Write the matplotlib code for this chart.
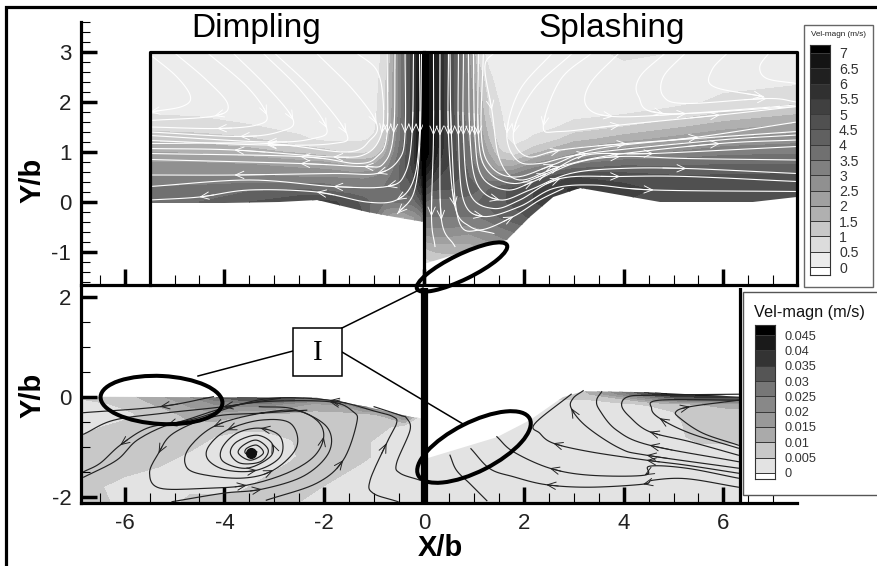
import numpy as np
import matplotlib
matplotlib.use("Agg")
import matplotlib.pyplot as plt
from matplotlib.colors import ListedColormap
from matplotlib.patches import Ellipse, Polygon, Rectangle

plt.rcParams["font.family"] = ["Liberation Sans", "DejaVu Sans"]
plt.rcParams["axes.unicode_minus"] = False

W, H = 878, 566

# ---- top panel velocity field (m/s)
top_levels = [0, .5, 1, 1.5, 2, 2.5, 3, 3.5, 4, 4.5, 5, 5.5, 6, 6.5, 7, 20]
top_colors = ["#ececec", "#dcdcdc", "#c8c8c8", "#b0b0b0", "#a0a0a0", "#909090", "#808080",
              "#707070", "#606060", "#505050", "#404040", "#303030", "#202020", "#141414", "#000000"]
top_labels = ["0", "0.5", "1", "1.5", "2", "2.5", "3", "3.5", "4", "4.5", "5", "5.5", "6", "6.5", "7"]

tl_x = [-5.5, -4.5, -3.5, -2.5, -2, -1.5, -1.2, -1, -.8, -.6, -.4, -.2, -.05, 0]
tl_y = [-.5, -.3, 0, .25, .5, .75, 1, 1.25, 1.5, 1.75, 2, 2.5, 3]
tl_v = [
    [4, 4, 4.5, 5, 5.2, 5, 4.5, 3.5, 2.5, 2, 2, 2.5, 3, 3.5],
    [4, 4, 4.5, 5, 5.2, 5, 4.5, 3.5, 2.5, 2, 2, 2.5, 3, 3.5],
    [4, 4, 4.5, 5, 5.2, 4.8, 4.3, 3.8, 3.5, 3.5, 3.6, 3.8, 4.5, 6],
    [3.6, 3.7, 3.9, 4, 3.9, 3.6, 3.5, 3.5, 3.6, 3.8, 4.1, 4.5, 5.5, 7],
    [3.1, 3.1, 3.1, 3, 3, 2.9, 2.9, 3, 3.2, 3.7, 4.3, 5, 6.2, 7.5],
    [2.6, 2.6, 2.5, 2.3, 2.2, 1.9, 1.9, 2, 2.5, 3.4, 4.4, 5.3, 6.8, 7.5],
    [2, 1.9, 1.7, 1.4, 1.2, .9, .9, 1.1, 1.7, 3, 4.2, 5.5, 7, 7.5],
    [1.4, 1.3, 1.1, .6, .4, .4, .45, .6, 1.2, 2.7, 4, 5.5, 7.2, 7.5],
    [.8, .7, .55, .35, .3, .3, .35, .4, 1, 2.5, 4, 5.5, 7.2, 7.5],
    [.5, .45, .3, .3, .3, .3, .3, .35, .9, 2.3, 4, 5.5, 7.2, 7.5],
    [.3, .3, .3, .3, .3, .3, .3, .35, .8, 2.3, 4, 5.5, 7.2, 7.5],
    [.3, .3, .3, .3, .3, .3, .3, .3, .7, 2.2, 4, 5.5, 7.2, 7.5],
    [.3, .3, .3, .3, .3, .3, .3, .3, .6, 2, 4, 5.5, 7.2, 7.5],
]
tl_surface = [(-5.5, -.02), (-4, -.02), (-2.9, 0), (-2.14, .04), (-1.14, -.2), (-.48, -.32), (0, -.4)]

tr_x = [0, .15, .3, .5, .7, .9, 1.1, 1.3, 1.5, 1.8, 2.2, 2.6, 3, 4, 5, 6, 7.5]
tr_y = [-1.5, -1.25, -.9, -.6, -.3, 0, .25, .5, .75, 1, 1.25, 1.5, 1.75, 2, 2.5, 3]
tr_v = [
    [.7, .8, .9, 1, 1, 1, 1.2, 1.4, 1.6, 1.8, 2, 2, 2, 2, 2, 2, 2],
    [.7, .8, .9, 1, 1, 1, 1.2, 1.4, 1.6, 1.8, 2, 2, 2, 2, 2, 2, 2],
    [1.5, 1.7, 1.8, 1.8, 1.8, 1.8, 2, 2.2, 2.5, 2.8, 3, 3, 3, 3, 3, 3, 3],
    [2.8, 2.8, 2.8, 2.8, 2.7, 2.6, 2.8, 3, 3.2, 3.5, 3.8, 4, 4, 4, 4, 4, 4],
    [3.5, 3.5, 3.5, 3.5, 3.5, 3.5, 3.5, 3.7, 4, 4.3, 4.6, 4.8, 4.8, 4.6, 4.4, 4.4, 4.4],
    [4, 3.8, 3.8, 3.8, 3.8, 3.8, 4, 4.2, 4.4, 4.6, 5, 5.3, 5.3, 5, 4.6, 4.6, 4.6],
    [5, 4.6, 4.5, 4.5, 4.3, 4.2, 4, 4, 4.3, 4.7, 5, 5.3, 5.6, 5.2, 4.8, 4.8, 4.8],
    [6, 5.5, 5, 4.8, 4.5, 4, 3.6, 3.2, 3, 3.3, 4, 4.7, 5, 4.8, 4.6, 4.6, 4.7],
    [7, 6.2, 5.5, 5, 4.4, 3.8, 3.2, 2.5, 1.8, 1.8, 2.6, 3, 3.5, 3.9, 3.9, 4, 4],
    [7.5, 6.8, 5.8, 5, 4.3, 3.6, 2.8, 1.9, 1.1, .7, 1.3, 1.8, 2.3, 2.8, 3, 3.3, 3.4],
    [7.5, 6.8, 6, 5, 4.2, 3.4, 2.5, 1.5, .8, .3, .6, .9, 1.3, 1.8, 2.2, 2.6, 2.8],
    [7.5, 6.8, 6, 5, 4.2, 3.2, 2.2, 1.2, .6, .3, .3, .45, .7, 1, 1.4, 1.8, 2.2],
    [7.5, 6.8, 6, 5, 4, 3, 2, 1, .55, .3, .3, .3, .35, .5, .7, 1.1, 1.5],
    [7.5, 6.8, 6, 5, 4, 3, 1.8, .9, .5, .3, .3, .3, .3, .3, .35, .6, .9],
    [7.5, 6.8, 6, 5, 4, 2.8, 1.3, .6, .3, .3, .3, .3, .3, .3, .3, .3, .3],
    [7.5, 6.8, 6, 5, 4, 2.5, .7, .3, .3, .3, .3, .3, .3, .6, .5, .3, .3],
]
tr_surface = [(0, -1.22), (.06, -1.22), (1.12, -.9), (1.66, -.76), (2.12, -.3), (2.59, .1), (3.13, .28),
              (3.93, .14), (4.73, 0), (6.59, 0), (7.47, .1)]

# ---- bottom panel velocity field (mm/s)
bot_levels = [0, 5, 10, 15, 20, 25, 30, 35, 40, 45, 99]
bot_colors = ["#e3e3e3", "#c8c8c8", "#aaaaaa", "#999999", "#888888", "#777777",
              "#555555", "#333333", "#1a1a1a", "#000000"]
bot_labels = ["0", "0.005", "0.01", "0.015", "0.02", "0.025", "0.03", "0.035", "0.04", "0.045"]

bl_x = [-6.85, -6, -5.3, -4.7, -4.2, -3.7, -3.2, -2.7, -2.2, -1.7, -1.2, -.8, -.4, 0]
bl_y = [-2.13, -1.8, -1.5, -1.2, -.9, -.6, -.35, -.15, 0, .1]
bl_v = [
    [7, 4, 3, 6, 7, 7, 7, 6, 3, 3, 3, 3, 3, 3],
    [7, 3, 3, 4, 3, 4, 6.5, 7, 6, 3, 3, 3, 3, 3],
    [6, 6, 4, 3, 3, 3, 4, 6.5, 7.5, 6, 3, 3, 3, 3],
    [6, 8, 7, 4, 3, 3, 3, 4, 7.5, 7, 6, 3, 3, 3],
    [6, 7, 7, 7, 4, 3, 3, 4.5, 7.5, 7, 6, 3, 3, 3],
    [4, 6, 7.5, 8, 7, 6, 6, 7, 7.5, 7, 7, 6, 3, 3],
    [3, 4, 7, 12, 14, 11, 9, 9, 8, 8, 9, 11, 25, 4],
    [3, 6, 11, 16, 20, 23, 24, 18, 14, 16, 30, 30, 30, 30],
    [6, 8, 14, 20, 30, 36, 38, 38, 30, 30, 30, 30, 30, 30],
    [6, 8, 14, 20, 30, 36, 38, 38, 30, 30, 30, 30, 30, 30],
]
bl_surface = [(-6.85, 0), (-2.15, -.02), (-1.15, -.2), (-.28, -.4), (0, -.44)]

br_x = [0, 2, 2.6, 3.2, 4, 4.6, 5, 5.5, 6, 6.4]
br_y = [-2.13, -1, -.8, -.5, -.3, -.15, -.05, .05, .15]
br_v = [
    [3, 3, 3, 3, 3, 3, 3, 3, 3, 3],
    [3, 3, 3, 3, 3, 3, 3, 4, 4, 4],
    [3, 3, 3, 3, 3, 3, 3, 7, 7.5, 7.5],
    [3, 3, 3, 3, 3, 3, 4, 7, 7.5, 7.5],
    [3, 3, 3, 3, 3, 3, 5, 7, 8, 8],
    [3, 3, 3, 3, 4, 6, 8, 10, 12, 13],
    [3, 3, 5, 5, 10, 20, 26, 30, 30, 32],
    [3, 3, 6, 8, 22, 35, 42, 42, 42, 42],
    [3, 3, 6, 10, 30, 45, 45, 45, 45, 45],
]
br_surface = [(0, -1.25), (1.46, -.81), (2.12, -.47), (2.78, -.01), (3.19, .11), (4.47, .09), (6.35, 0)]

# ---- streamlines: (points along the flow, control points that carry an arrow head)
tl_lines = [
    ([(-5.49, 2.95), (-4.96, 2.51), (-4.68, 2.11), (-4.85, 1.91), (-5.49, 1.8)], [4]),
    ([(-5.02, 3), (-4.36, 2.44), (-3.93, 1.95), (-4.2, 1.72), (-5.49, 1.63)], [3]),
    ([(-4.36, 3), (-3.55, 2.31), (-3.15, 1.74), (-3.35, 1.54), (-4.15, 1.47), (-5.49, 1.5)], [2, 4]),
    ([(-3.85, 3), (-3.15, 2.31), (-2.62, 1.64), (-2.88, 1.41), (-3.69, 1.31), (-5.49, 1.4)], [2, 4]),
    ([(-3.25, 3), (-2.48, 2.24), (-1.95, 1.48), (-2.22, 1.27), (-3.15, 1.2), (-5.49, 1.33)], [2, 4]),
    ([(-3.02, 3), (-2.22, 2.24), (-1.55, 1.37), (-1.82, 1.17), (-3.15, 1.14), (-5.49, 1.23)], [2, 4]),
    ([(-2.18, 3), (-1.42, 2.24), (-.95, 1.57), (-1.08, 1.24), (-1.55, 1), (-3.15, 1.17), (-5.49, 1.17)], [2, 5]),
    ([(-1.38, 3), (-.95, 2.64), (-.82, 2.04), (-.85, 1.37), (-1.15, .97), (-1.82, .9), (-3.8, 1.04), (-5.49, 1.07)], [3, 5, 6]),
    ([(-.74, 3), (-.74, 1.37), (-.94, .91), (-1.35, .77), (-2.48, .91), (-5.49, .97)], [1, 4]),
    ([(-.58, 3), (-.61, 1.37), (-.81, .77), (-1.21, .71), (-2.48, .77), (-5.49, .85)], [1, 3, 4]),
    ([(-.38, 3), (-.38, 1.37), (-.51, .84), (-.94, .57), (-1.82, .57), (-3.8, .54), (-5.49, .54)], [1, 3, 5]),
    ([(-.21, 3), (-.24, 1.37), (-.38, .57), (-.74, .31), (-1.82, .31), (-3.5, .44), (-5.49, .31)], [1, 3, 4]),
    ([(-.09, 3), (-.09, 1.37), (-.21, .44), (-.55, .04), (-1.15, 0), (-2.15, .2), (-3.5, .24), (-4.5, .1), (-5.49, .04)], [1, 3, 5, 7]),
    ([(-.05, 3), (-.08, 1.25), (-.2, .2), (-.53, -.23)], [3]),
]
tr_lines = [
    ([(.19, 3), (.19, 1.33), (.15, -.29), (.22, -.89)], [1, 2]),
    ([(.32, 3), (.32, 1.33), (.35, -.36), (.62, -.89)], [1, 2]),
    ([(.49, 3), (.49, 1.33), (.62, -.09), (.92, -.49), (1.4, -.63)], [1, 2]),
    ([(.52, 3), (.55, 1.33), (.69, -.36), (1.12, -.56), (1.79, -.29), (2.32, .04), (2.79, .27)], [1, 4]),
    ([(.69, 3), (.69, 1.33), (.79, .04), (1.19, -.29), (1.92, -.09), (2.59, .27), (3.39, .34), (4.6, .24), (7.47, .21)], [1, 3, 7]),
    ([(.79, 3), (.79, 1.33), (.92, .17), (1.39, -.13), (1.92, .04), (2.73, .47), (3.93, .51), (5.26, .51), (7.47, .41)], [1, 5, 6]),
    ([(.89, 3), (.92, 1.33), (1.06, .37), (1.52, .04), (2.12, .24), (2.93, .57), (3.93, .67), (5.26, .67), (7.47, .57)], [1, 3, 7]),
    ([(.99, 3), (1.02, 1.33), (1.16, .51), (1.66, .24), (2.19, .41), (3, .77), (3.93, .91), (5.26, .87), (7.47, .84)], [1, 4, 6]),
    ([(1.09, 3), (1.09, 1.33), (1.26, .64), (1.79, .37), (2.46, .57), (3.26, .94), (4.6, .97), (7.47, 1.11)], [1, 4, 6]),
    ([(1.19, 3), (1.15, 1.33), (1.35, .7), (1.85, .5), (2.6, .75), (3.5, 1.07), (5.5, 1.3), (7.47, 1.6)], [4, 6]),
    ([(1.42, 3), (1.22, 2.71), (1.36, 1.84), (1.52, .84), (1.92, .44), (2.73, .71), (3.79, .94), (5.93, 1.17), (7.47, 1.24)], [2, 5, 7]),
    ([(2.59, 3), (1.92, 2.24), (1.66, 1.37), (1.86, .84), (2.32, .77), (3.26, .97), (5.93, 1.24), (7.47, 1.34)], [2, 5]),
    ([(3, 3), (2.19, 2.24), (1.79, 1.37), (2.06, .91), (2.73, 1.04), (4.06, 1.17), (7.47, 1.41)], [2, 4, 5]),
    ([(3.39, 3), (2.73, 2.44), (2.39, 1.51), (2.73, 1.41), (3.93, 1.54), (5.93, 1.74), (7.47, 1.91)], [2, 4, 5]),
    ([(3.93, 3), (3.33, 2.37), (3.26, 1.91), (3.79, 1.71), (5.26, 1.77), (7.47, 1.94)], [3, 4]),
    ([(4.86, 3), (4.33, 2.51), (4.3, 2.11), (4.8, 1.77), (7.47, 1.91)], [3]),
    ([(5.26, 3), (4.8, 2.51), (4.8, 2.11), (5.26, 1.97), (6.87, 2.07), (7.47, 2)], [4]),
    ([(6.1, 3), (5.77, 2.64), (5.8, 2.31), (6.8, 2.11)], [3]),
    ([(6.93, 3), (6.73, 2.71), (6.87, 2.47), (7.47, 2.37)], []),
]
bl_lines = [
    ([(-4.22, 0), (-5.29, -.2), (-6.83, -.32)], [1]),
    ([(-2.88, -.03), (-4.02, -.2), (-5.22, -.33), (-6.22, -.47), (-6.82, -.75)], [1]),
    ([(-3.16, -2.07), (-2.15, -1.73), (-1.62, -1.27), (-1.35, -.53), (-1.42, -.3), (-1.89, -.1), (-3.22, -.1),
      (-4.02, -.23), (-4.89, -.5), (-5.55, -.63), (-6.09, -.97), (-6.49, -1.33), (-6.82, -1.5)], [2, 5, 10]),
    ([(-.52, -2.1), (-1.02, -1.93), (-1.08, -1.67), (-.75, -.93), (-.55, -.53), (-.62, -.4), (-.95, -.3),
      (-1.89, -.07), (-3.22, -.05), (-4.55, -.43), (-5.15, -.57), (-5.75, -.87), (-6.16, -1.27), (-6.82, -1.61)], [3, 7, 10]),
    ([(-.08, -1.67), (-.48, -1.53), (-.55, -1.33), (-.28, -.67), (-.35, -.43), (-.48, -.37), (-1, -.2)], []),
    ([(-5.05, -2.1), (-4.02, -1.93), (-3.25, -1.85), (-2.4, -1.58), (-1.9, -1.1), (-1.95, -.6), (-2.6, -.25), (-3.3, -.2)], [2]),
    ([(-2.35, -.27), (-3.28, -.33), (-4.22, -.4), (-5.02, -.73), (-5.32, -1.13), (-5.5, -1.53), (-5.29, -1.83),
      (-4.35, -1.83), (-3.55, -1.77), (-2.75, -1.53), (-2.21, -1.2), (-2.01, -.8), (-2.15, -.47), (-2.62, -.27),
      (-3.48, -.37), (-4.22, -.6), (-4.69, -1), (-4.79, -1.33), (-4.55, -1.53), (-3.68, -1.63), (-3.02, -1.47),
      (-2.55, -1), (-2.68, -.53), (-3.28, -.47), (-3.95, -.67), (-4.32, -1), (-4.32, -1.27), (-3.95, -1.47),
      (-3.35, -1.47), (-2.88, -1.2), (-2.88, -.8), (-3.28, -.63), (-3.75, -.73), (-4.05, -1.03), (-4.02, -1.3),
      (-3.55, -1.43), (-3.08, -1.2), (-3.05, -.93), (-3.35, -.77), (-3.75, -.9), (-3.88, -1.13), (-3.68, -1.33),
      (-3.28, -1.3), (-3.12, -1.07), (-3.35, -.87), (-3.62, -.97), (-3.72, -1.13), (-3.48, -1.27), (-3.22, -1.13),
      (-3.35, -.97), (-3.55, -1.03), (-3.58, -1.13), (-3.42, -1.18), (-3.35, -1.1), (-3.45, -1.1)],
     [4, 8, 11, 15, 20, 24, 28, 31, 37]),
]
br_lines = [
    ([(1.26, -2.08), (.92, -1.74), (.65, -1.47), (.52, -1.17)], []),
    ([(6.3, -1.81), (5.26, -1.64), (4.59, -1.67), (4.39, -1.75), (3.32, -1.81), (2.45, -1.76), (1.79, -1.6), (1.32, -1.44), (.94, -1.04)], [3, 5]),
    ([(6.3, -1.63), (5.26, -1.43), (4.52, -1.39), (4.42, -1.57), (3.32, -1.57), (2.52, -1.43), (1.79, -1.1), (1.46, -.8)], [3, 5]),
    ([(6.3, -1.53), (5.26, -1.37), (4.46, -1.27), (3.32, -1.1), (2.59, -.93), (2.32, -.73), (2.22, -.54), (2.95, .05)], [2, 4]),
    ([(6.3, -1.43), (4.46, -1.17), (3.92, -1.03), (3.26, -.6), (2.95, -.23), (2.99, -.03), (3.19, .12)], [1, 4]),
    ([(6.3, -1.3), (4.52, -.97), (3.86, -.67), (3.52, -.27), (3.46, -.07), (3.56, .1)], [1]),
    ([(6.3, -1.17), (5.33, -.9), (4.52, -.7), (4.12, -.4), (3.96, -.17), (4.09, 0), (4.59, .03), (6.3, .05)], [2]),
    ([(6.3, -1.03), (5.33, -.73), (4.72, -.43), (4.56, -.23), (4.72, -.07), (6.3, -.07)], [2]),
    ([(6.3, -.97), (5.59, -.73), (5.13, -.43), (5.05, -.3), (5.33, -.2), (6.3, -.07)], [4]),
]
vortex_core = (-3.47, -1.12)

# ---- annotations, in figure pixels
ellipses = [(462, 267, 100, 25, -26), (161.5, 400, 122, 48, 3), (474, 447, 125, 49, -27)]
callout_lines = [((342, 328), (423, 288)), ((293, 351), (198, 376)), ((342, 352), (463, 424))]


def px_axes(left, top, right, bottom, **kw):
    return fig.add_axes([left / W, 1 - bottom / H, (right - left) / W, (bottom - top) / H], **kw)


def smooth(pts, n=10):
    p = np.array(pts, dtype=float)
    p = np.vstack([2 * p[0] - p[1], p, 2 * p[-1] - p[-2]])
    out = []
    for i in range(1, len(p) - 2):
        for t in np.linspace(0, 1, n, endpoint=False):
            out.append(.5 * (2 * p[i] + (p[i + 1] - p[i - 1]) * t
                             + (2 * p[i - 1] - 5 * p[i] + 4 * p[i + 1] - p[i + 2]) * t ** 2
                             + (3 * p[i] - p[i - 1] - 3 * p[i + 1] + p[i + 2]) * t ** 3))
    out.append(p[-2])
    return np.array(out)


def draw_lines(ax, lines, color, lw):
    for pts, heads in lines:
        s = smooth(pts)
        ax.plot(s[:, 0], s[:, 1], color=color, lw=lw, zorder=3)
        for h in heads:
            k = max(h * 10, 3)
            ax.annotate("", xy=s[k], xytext=s[k - 3], zorder=3,
                        arrowprops=dict(arrowstyle="->,head_length=0.55,head_width=0.24", color=color,
                                        lw=lw * .8, shrinkA=0, shrinkB=0, mutation_scale=11))


def draw_field(ax, x, y, v, levels, colors, surface, close_y):
    cs = ax.contourf(x, y, v, levels=levels, colors=colors, zorder=1)
    clip = Polygon(list(surface) + [(surface[-1][0], close_y), (surface[0][0], close_y)],
                   closed=True, transform=ax.transData)
    cs.set_clip_path(clip)


def style_axes(ax, ymajor, yminor, xlim, ylim):
    ax.set_xlim(xlim)
    ax.set_ylim(ylim)
    ax.set_xticks(np.arange(-6, 7, 2))
    ax.set_xticks(np.arange(-6.5, 7.5, .5), minor=True)
    ax.set_yticks(ymajor)
    ax.set_yticks(yminor, minor=True)
    ax.tick_params(which="major", direction="in", length=11.5, width=2.5, labelsize=16, pad=7,
                   labelcolor="#222222")
    ax.tick_params(which="minor", direction="in", length=7, width=.8)
    ax.tick_params(axis="y", which="minor", length=6.5)
    for s in ["top", "right"]:
        ax.spines[s].set_visible(False)
    for s in ["left", "bottom"]:
        ax.spines[s].set_linewidth(2.3)


def draw_key(left, top, right, bottom, edges, colors, ticks, labels, size):
    cax = px_axes(left, top, right, bottom, zorder=7)
    cmap = ListedColormap(["#ffffff"] + colors)
    cax.pcolormesh([0, 1], edges, np.arange(len(edges) - 1)[:, None], cmap=cmap,
                   edgecolors="#3a3a3a", linewidth=.7)
    cax.set_xticks([])
    cax.yaxis.tick_right()
    cax.set_yticks(ticks)
    cax.set_yticklabels(labels, fontsize=size, color="#333333")
    cax.tick_params(axis="y", length=0, pad=6.5)
    for sp in cax.spines.values():
        sp.set_color("#333333")
        sp.set_linewidth(.8)


fig = plt.figure(figsize=(W / 100, H / 100), dpi=100, facecolor="white")

# top panel
ax_top = px_axes(81, 22, 797, 285)
style_axes(ax_top, [-1, 0, 1, 2, 3], np.arange(-1.6, 3.7, .2), (-6.874, 7.475), (-1.66, 3.6))
ax_top.tick_params(axis="x", which="both", labelbottom=False)
draw_field(ax_top, tl_x, tl_y, tl_v, top_levels, top_colors, tl_surface, 3)
draw_field(ax_top, tr_x, tr_y, tr_v, top_levels, top_colors, tr_surface, 3)
draw_lines(ax_top, tl_lines, "white", .8)
draw_lines(ax_top, tr_lines, "white", .8)
ax_top.plot([-5.5, -5.5, 7.47, 7.47], [-1.66, 3, 3, -1.66], color="k", lw=2.3, zorder=4, clip_on=False)
ax_top.plot([0, 0], [-1.66, 3], color="k", lw=2.3, zorder=4)

# bottom panel
ax_bot = px_axes(81, 288, 797, 503)
style_axes(ax_bot, [-2, 0, 2], np.arange(-2, 2.1, .5), (-6.874, 7.475), (-2.126, 2.174))
draw_field(ax_bot, bl_x, bl_y, bl_v, bot_levels, bot_colors, bl_surface, -2.126)
draw_field(ax_bot, br_x, br_y, br_v, bot_levels, bot_colors, br_surface, -2.126)
draw_lines(ax_bot, bl_lines, "#222222", .85)
draw_lines(ax_bot, br_lines, "#222222", .85)
ax_bot.plot(*vortex_core, "o", color="#111111", ms=7, zorder=3)
ax_bot.plot([0, 0], [-2.126, 2.174], color="k", lw=5.2, zorder=4)
ax_bot.plot([6.33, 6.33], [-2.126, 2.174], color="k", lw=2.3, zorder=4)

# overlay: frame, titles, callouts, legend boxes
ov = px_axes(0, 0, W, H, zorder=5)
ov.set_xlim(0, W)
ov.set_ylim(H, 0)
ov.axis("off")
ov.plot([6.5, 6.5, W], [H, 6.5, 6.5], color="k", lw=2.3, solid_joinstyle="miter")
ov.text(256, 28, "Dimpling", fontsize=24, ha="center", va="center")
ov.text(612, 29, "Splashing", fontsize=24, ha="center", va="center")
ov.text(33, 180, "Y/b", fontsize=21, fontweight="bold", rotation=90, ha="center", va="center")
ov.text(33, 395, "Y/b", fontsize=21, fontweight="bold", rotation=90, ha="center", va="center")
ov.text(440, 548, "X/b", fontsize=21, fontweight="bold", ha="center", va="center")

for a, b in callout_lines:
    ov.plot([a[0], b[0]], [a[1], b[1]], color="k", lw=1.1)
ov.add_patch(Rectangle((293, 328), 49, 48, fc="white", ec="k", lw=1.1, zorder=4))
ov.text(317.5, 353, "I", fontsize=21, family="Liberation Serif", ha="center", va="center", zorder=5)
for cx, cy, w, h, ang in ellipses:
    ov.add_patch(Ellipse((cx, cy), w, h, angle=ang, fc="none", ec="k", lw=2.9, zorder=3))

ov.add_patch(Rectangle((804, 25), 69, 262, fc="white", ec="#666666", lw=1, zorder=6))
ov.add_patch(Rectangle((743, 292), 140, 203, fc="white", ec="#555555", lw=1, zorder=6))
ov.text(838.5, 35, "Vel-magn (m/s)", fontsize=5.9, color="#222222", ha="center", va="center", zorder=7)
ov.text(809, 312, "Vel-magn (m/s)", fontsize=11.7, color="#111111", ha="center", va="center", zorder=7)

draw_key(810, 45, 830, 275, [-.26] + top_levels[:-1] + [7.26], top_colors,
         top_levels[:-1], top_labels, 10.2)
draw_key(755, 325, 775, 479, [-2] + bot_levels[:-1] + [48.3], bot_colors,
         bot_levels[:-1], bot_labels, 9.2)

fig.savefig("out.png", dpi=100)
